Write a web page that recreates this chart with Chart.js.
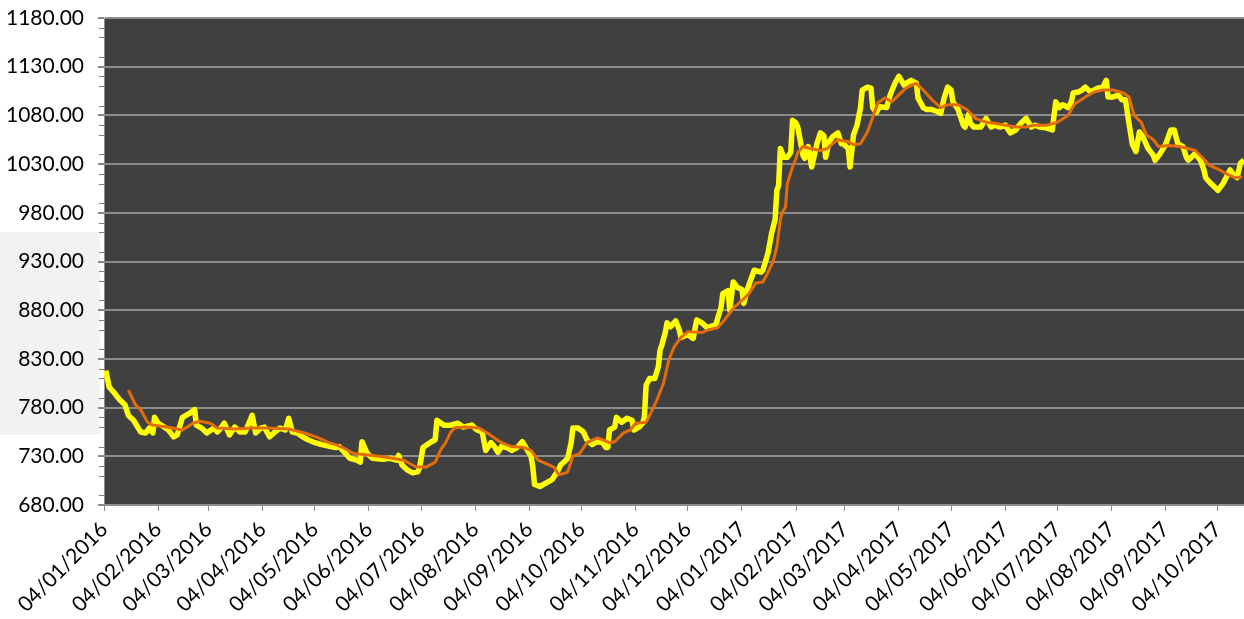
<!DOCTYPE html>
<html>
<head>
<meta charset="utf-8">
<title>Price and moving average</title>
<script src="https://cdn.jsdelivr.net/npm/chart.js@4/dist/chart.umd.min.js"></script>
<style>
  html, body { margin: 0; padding: 0; background: #ffffff; }
  canvas { display: block; }
</style>
</head>
<body>
<canvas id="chart" width="1244" height="619"></canvas>
<script>
// x values are days counted from 04/01/2016
const tickLabels = [
  "04/01/2016", "04/02/2016", "04/03/2016", "04/04/2016", "04/05/2016", "04/06/2016",
  "04/07/2016", "04/08/2016", "04/09/2016", "04/10/2016", "04/11/2016", "04/12/2016",
  "04/01/2017", "04/02/2017", "04/03/2017", "04/04/2017", "04/05/2017", "04/06/2017",
  "04/07/2017", "04/08/2017", "04/09/2017", "04/10/2017",
];

const priceDay = [
  1, 3, 6, 9, 12, 14, 17, 21, 24, 26, 28, 29, 31, 33, 37, 40, 42, 45, 49, 52,
  53, 56, 59, 63, 65, 67, 69, 72, 75, 78, 81, 85, 87, 90, 92, 95, 98, 101, 104, 106,
  108, 111, 114, 117, 121, 125, 130, 133, 135, 141, 145, 147, 148, 151, 154, 160, 164, 168, 169, 171,
  174, 177, 180, 181, 183, 187, 190, 191, 195, 199, 203, 206, 211, 214, 217, 219, 222, 224, 226, 228,
  231, 234, 237, 240, 242, 245, 246, 247, 250, 254, 257, 260, 262, 265, 266, 268, 269, 272, 275, 277,
  280, 283, 286, 288, 289, 290, 293, 294, 297, 300, 303, 304, 307, 309, 310, 311, 313, 316, 318, 319,
  320, 322, 323, 325, 328, 330, 331, 335, 338, 340, 343, 346, 351, 354, 355, 358, 359, 361, 363, 366,
  367, 369, 371, 373, 377, 378, 381, 383, 385, 386, 387, 388, 390, 392, 394, 395, 397, 398, 401, 402,
  404, 406, 409, 411, 413, 414, 416, 418, 421, 423, 424, 427, 428, 430, 432, 434, 435, 438, 440, 441,
  443, 445, 449, 451, 454, 456, 459, 461, 463, 466, 467, 470, 472, 475, 478, 480, 482, 484, 486, 487,
  490, 493, 494, 496, 497, 499, 503, 506, 509, 511, 514, 517, 520, 523, 526, 529, 532, 534, 537, 541,
  544, 546, 548, 550, 553, 555, 556, 559, 561, 563, 566, 570, 573, 575, 576, 579, 582, 584, 586, 588,
  590, 592, 594, 596, 599, 602, 603, 606, 609, 612, 614, 616, 619, 621, 622, 625, 626, 629, 631, 632,
  635, 638, 639, 642, 644, 646, 648, 650, 652, 654,
];

const priceValue = [
  818, 801, 795, 788, 783, 772, 767, 755, 754, 759, 754, 770, 764, 762, 757, 750, 752, 770, 774, 778,
  762, 759, 754, 759, 755, 759, 764, 752, 760, 755, 755, 772, 754, 759, 760, 750, 755, 759, 757, 769,
  755, 754, 750, 747, 744, 742, 740, 739, 740, 728, 726, 724, 745, 733, 728, 727, 728, 726, 731, 721,
  716, 713, 714, 718, 739, 744, 747, 767, 762, 762, 764, 760, 762, 757, 755, 736, 744, 740, 734, 740,
  739, 736, 739, 745, 739, 730, 719, 701, 699, 703, 706, 714, 721, 726, 728, 744, 759, 759, 755, 747,
  742, 745, 744, 739, 739, 757, 760, 770, 765, 769, 767, 757, 760, 764, 770, 803, 810, 810, 822, 839,
  844, 857, 867, 863, 869, 860, 852, 855, 851, 870, 867, 862, 865, 883, 897, 900, 880, 909, 904, 901,
  887, 901, 911, 921, 919, 921, 939, 959, 973, 1003, 1008, 1046, 1037, 1037, 1042, 1075, 1072, 1068, 1039, 1036,
  1048, 1027, 1051, 1062, 1059, 1037, 1053, 1058, 1062, 1051, 1051, 1046, 1027, 1060, 1070, 1088, 1106, 1109, 1108, 1088,
  1083, 1089, 1088, 1101, 1114, 1120, 1111, 1114, 1116, 1113, 1098, 1088, 1086, 1086, 1084, 1082, 1098, 1109, 1106, 1094,
  1086, 1070, 1068, 1081, 1072, 1068, 1068, 1077, 1068, 1070, 1068, 1070, 1062, 1065, 1072, 1077, 1068, 1070, 1068, 1067,
  1065, 1094, 1088, 1091, 1088, 1094, 1103, 1104, 1106, 1109, 1104, 1108, 1109, 1116, 1099, 1099, 1101, 1096, 1096, 1072,
  1050, 1043, 1063, 1058, 1046, 1039, 1034, 1041, 1050, 1065, 1065, 1051, 1048, 1037, 1034, 1039, 1041, 1034, 1024, 1016,
  1010, 1005, 1003, 1010, 1017, 1024, 1019, 1016, 1031, 1034,
];

const avgDay = [
  14, 18, 21, 25, 28, 36, 45, 51, 55, 61, 65, 75, 85, 94, 106, 115, 123, 129, 133, 137,
  143, 153, 162, 172, 179, 185, 190, 193, 196, 199, 201, 207, 215, 219, 223, 228, 234, 241, 245, 249,
  253, 258, 261, 265, 266, 269, 273, 277, 283, 286, 290, 293, 298, 302, 305, 311, 313, 317, 321, 324,
  327, 331, 335, 343, 347, 352, 356, 361, 366, 370, 374, 378, 381, 384, 386, 388, 389, 391, 392, 395,
  397, 398, 401, 405, 411, 415, 418, 421, 427, 430, 434, 438, 441, 444, 448, 452, 456, 460, 466, 470,
  475, 480, 484, 490, 495, 500, 506, 511, 517, 523, 529, 533, 541, 547, 553, 557, 563, 568, 573, 579,
  585, 588, 591, 595, 598, 602, 605, 611, 617, 622, 626, 630, 634, 640, 645, 649, 653,
];

const avgValue = [
  798, 783, 778, 765, 762, 760, 757, 764, 766, 764, 759, 758, 759, 759, 758, 754, 749, 744, 742, 739,
  733, 731, 729, 726, 719, 719, 724, 736, 744, 755, 759, 760, 759, 755, 750, 744, 740, 739, 736, 726,
  723, 719, 711, 713, 714, 730, 733, 744, 749, 747, 744, 745, 754, 757, 764, 765, 772, 787, 805, 829,
  842, 852, 858, 857, 860, 862, 870, 882, 890, 897, 908, 909, 919, 931, 945, 973, 980, 986, 1010, 1027,
  1036, 1042, 1048, 1046, 1044, 1046, 1051, 1055, 1053, 1050, 1051, 1063, 1078, 1093, 1098, 1094, 1101, 1108, 1113, 1106,
  1096, 1088, 1091, 1091, 1086, 1077, 1073, 1072, 1070, 1068, 1068, 1070, 1070, 1073, 1080, 1092, 1099, 1104, 1106, 1106,
  1103, 1099, 1080, 1073, 1060, 1055, 1048, 1049, 1048, 1046, 1044, 1037, 1029, 1024, 1019, 1016, 1017,
];

const dayOf = (label) => {
  const [d, m, y] = label.split("/").map(Number);
  return (Date.UTC(y, m - 1, d) - Date.UTC(2016, 0, 4)) / 86400000;
};
const tickDays = tickLabels.map(dayOf);

const FONT = { family: "Lato, 'Liberation Sans', sans-serif", size: 21 };
const GRID = "#8c8c8c";

// dark plot area plus the pale box behind the middle y labels
const backdrop = {
  id: "backdrop",
  beforeDraw(chart) {
    const { ctx, chartArea } = chart;
    ctx.save();
    ctx.fillStyle = "#f2f2f2";
    ctx.fillRect(0, 232, 100, 203);
    ctx.fillStyle = "#404040";
    ctx.fillRect(chartArea.left, chartArea.top,
      chartArea.right - chartArea.left, chartArea.bottom - chartArea.top);
    ctx.restore();
  },
  afterDraw(chart) {
    // minor ticks on the value axis, every 10
    const { ctx, chartArea } = chart;
    const y = chart.scales.y;
    ctx.save();
    ctx.strokeStyle = "#7f7f7f";
    ctx.lineWidth = 1;
    for (let v = y.min; v <= y.max; v += 10) {
      if (v % 50 === 0) continue;
      const py = Math.round(y.getPixelForValue(v)) + 0.5;
      ctx.beginPath();
      ctx.moveTo(chartArea.left - 5, py);
      ctx.lineTo(chartArea.left, py);
      ctx.stroke();
    }
    ctx.restore();
  },
};

new Chart(document.getElementById("chart"), {
  type: "line",
  data: {
    datasets: [
      {
        label: "Moving average",
        data: avgDay.map((d, i) => ({ x: d, y: avgValue[i] })),
        borderColor: "#e46c0a",
        borderWidth: 3,
        pointRadius: 0,
        tension: 0,
        borderJoinStyle: "round",
      },
      {
        label: "Price",
        data: priceDay.map((d, i) => ({ x: d, y: priceValue[i] })),
        borderColor: "#ffff00",
        borderWidth: 5.5,
        pointRadius: 0,
        tension: 0,
        borderJoinStyle: "round",
      },
    ],
  },
  options: {
    responsive: false,
    animation: false,
    devicePixelRatio: 1,
    layout: { padding: 0 },
    plugins: { legend: { display: false }, tooltip: { enabled: false } },
    scales: {
      x: {
        type: "linear",
        min: 0,
        max: 654,
        afterBuildTicks: (scale) => {
          scale.ticks = tickDays.map((v) => ({ value: v }));
        },
        afterFit: (scale) => { scale.height = 114; },
        ticks: {
          autoSkip: false,
          minRotation: 45,
          maxRotation: 45,
          padding: 6,
          color: "#000000",
          font: FONT,
          callback: (value, index) => tickLabels[index],
        },
        grid: { drawOnChartArea: false, drawTicks: true, tickLength: 6, color: GRID },
        border: { color: GRID, width: 1 },
      },
      y: {
        min: 680,
        max: 1180,
        afterFit: (scale) => {
          scale.width = 104;
          scale.paddingTop = 18;
          scale.paddingBottom = 0;
        },
        ticks: {
          stepSize: 50,
          padding: 14,
          color: "#000000",
          font: FONT,
          callback: (value) => value.toFixed(2),
        },
        grid: { color: GRID, lineWidth: 2, tickLength: 6 },
        border: { color: GRID, width: 1 },
      },
    },
  },
  plugins: [backdrop],
});
</script>
</body>
</html>
